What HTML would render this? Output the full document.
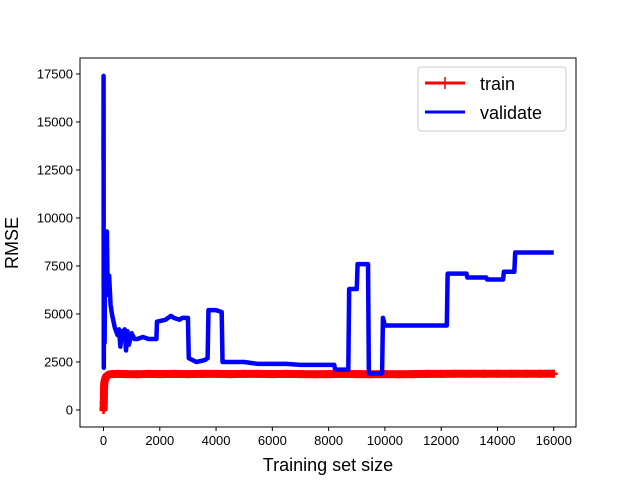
<!DOCTYPE html>
<html><head><meta charset="utf-8"><style>
body{margin:0;background:#fff;}
svg{display:block;font-family:"Liberation Sans","DejaVu Sans",sans-serif;}
</style></head><body>
<svg id="chart" width="640" height="480">
<rect x="0" y="0" width="640" height="480" fill="#fff"/>
<g id="plot"></g>
<g id="axes"></g>
<text x="328" y="471" font-size="18" text-anchor="middle">Training set size</text>
<text transform="translate(18,243) rotate(-90)" font-size="18" text-anchor="middle">RMSE</text>
<g>
<rect x="418" y="67" width="148" height="64" rx="3" fill="#fff" stroke="#ccc" stroke-width="1"/>
<g>
<line x1="425" y1="83" x2="465" y2="83" stroke="red" stroke-width="3"/>
<path d="M445 77V89M439 83H451" stroke="red" stroke-width="1.5"/>
<text x="480" y="90" font-size="18">train</text></g>
<g>
<line x1="425" y1="112" x2="465" y2="112" stroke="blue" stroke-width="3"/>
<text x="480" y="119" font-size="18">validate</text></g>
</g>
</svg>
<script>
const valX=[0,3,6,10,20,40,60,90,120,150,200,250,300,400,500,550,600,650,700,750,800,850,900,1000,1100,1200,1400,1600,1880,1900,2200,2400,2500,2700,2800,3000,3030,3300,3600,3700,3730,4000,4200,4230,4600,5000,5500,6000,6500,7000,7500,8200,8230,8700,8730,9000,9030,9400,9430,9900,9930,10000,12200,12230,12900,12930,13600,13630,14200,14230,14600,14630,16000];
const valY=[13000,17400,9000,2200,6000,3500,9000,6500,9300,6000,7000,5500,5000,4300,3900,4200,3300,4100,3800,4200,3100,4100,3400,4000,3700,3700,3800,3700,3700,4600,4700,4900,4800,4700,4800,4800,2700,2500,2600,2700,5200,5200,5100,2500,2500,2500,2400,2400,2400,2350,2350,2350,2100,2100,6300,6300,7600,7600,1900,1900,4800,4400,4400,7100,7100,6900,6900,6800,6800,7200,7200,8200,8200];
const trainX=[0,5,10,15,20,30,40,60,80,100,150,200,300,500,800,1200,1600,2000,2500,3000,3500,4000,4500,5000,5500,6000,6500,7000,7500,8000,8500,9000,9500,10000,10500,11000,11500,12000,12500,13000,13500,14000,14500,15000,15500,16000];
const trainY=[0,100,400,800,1200,1400,1500,1600,1700,1750,1800,1850,1870,1880,1870,1860,1880,1870,1880,1870,1880,1880,1870,1880,1880,1870,1880,1870,1860,1870,1880,1870,1860,1870,1860,1870,1880,1880,1890,1890,1890,1890,1890,1890,1890,1890];
const xTicks=[0,2000,4000,6000,8000,10000,12000,14000,16000];
const yTicks=[0,2500,5000,7500,10000,12500,15000,17500];
const NS="http://www.w3.org/2000/svg";
const X=v=>103.5+v*0.02814;
const Y=v=>410-v*0.0192;
const plot=document.getElementById('plot'),axes=document.getElementById('axes');
function mk(t,a,p){const e=document.createElementNS(NS,t);for(const k in a)e.setAttribute(k,a[k]);p.appendChild(e);return e;}
const tl=mk('polyline',{points:trainX.map((x,i)=>X(x)+','+Y(trainY[i])).join(' '),fill:'none',stroke:'red','stroke-width':8},plot);


trainX.forEach((x,i)=>{const m=mk('path',{d:`M${X(x)} ${Y(trainY[i])-4}v8M${X(x)-4} ${Y(trainY[i])}h8`,stroke:'red','stroke-width':2.5},plot);

});
let pts=[];valX.forEach((x,i)=>{pts.push(X(x)+','+Y(valY[i]));});
const vl=mk('polyline',{points:pts.join(' '),fill:'none',stroke:'blue','stroke-width':4.5,'stroke-linejoin':'round'},plot);


const fr=mk('rect',{x:80,y:58,width:496,height:369,fill:'none',stroke:'#000','stroke-width':1},axes);


xTicks.forEach(t=>{mk('line',{x1:X(t),x2:X(t),y1:427,y2:431,stroke:'#000'},axes);
const tx=mk('text',{x:X(t),y:445,'font-size':13,'text-anchor':'middle'},axes);tx.textContent=t;

});
yTicks.forEach(t=>{mk('line',{x1:76,x2:80,y1:Y(t),y2:Y(t),stroke:'#000'},axes);
const tx=mk('text',{x:73,y:Y(t)+4.5,'font-size':13,'text-anchor':'end'},axes);tx.textContent=t;

});
</script>
</body></html>
